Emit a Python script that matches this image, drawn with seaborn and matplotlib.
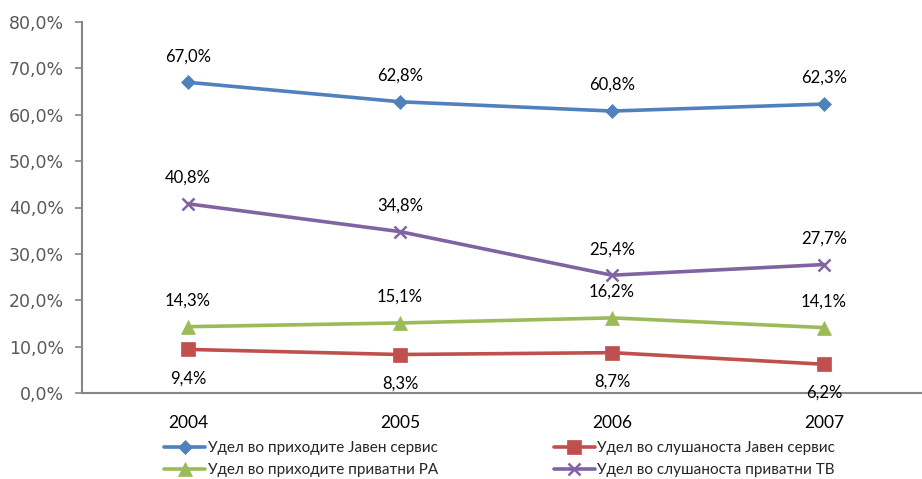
import seaborn as sns
import matplotlib.pyplot as plt
import pandas as pd
import numpy as np

# Values (percent)
years = ['2004', '2005', '2006', '2007']
javen_prihodi = [67.0, 62.8, 60.8, 62.3]
javen_slushanost = [9.4, 8.3, 8.7, 6.2]
privatni_ra = [14.3, 15.1, 16.2, 14.1]
privatni_tv = [40.8, 34.8, 25.4, 27.7]

series_names = ['Удел во приходите Јавен сервис', 'Удел во слушаноста Јавен сервис',
                'Удел во приходите приватни РА', 'Удел во слушаноста приватни ТВ']
series_values = [javen_prihodi, javen_slushanost, privatni_ra, privatni_tv]
colors = ['#4F81BD', '#C0504D', '#9BBB59', '#8064A2']
markers = ['D', 's', '^', 'x']
marker_sizes = [7, 10, 10, 9]
label_above = [True, False, True, True]

rows = []
for name, vals in zip(series_names, series_values):
    for i, v in enumerate(vals):
        rows.append({'series': name, 'x': i, 'value': v})
df = pd.DataFrame(rows)

sns.set_style('white')
plt.rcParams['font.family'] = ['Lato', 'DejaVu Sans']

fig = plt.figure(figsize=(9.22, 4.79), dpi=100)
ax = fig.add_axes([82 / 922, 1 - 393 / 479, (930 - 82) / 922, (393 - 22) / 479])

for name, col, mk, ms, above in zip(series_names, colors, markers, marker_sizes, label_above):
    sub = df[df['series'] == name]
    sns.lineplot(data=sub, x='x', y='value', ax=ax, color=col, marker=mk,
                 markersize=ms, linewidth=2.6, label=name,
                 markeredgecolor=col, markeredgewidth=1.8 if mk == 'x' else 0.5)
    for xv, yv in zip(sub['x'], sub['value']):
        txt = f'{yv:.1f}%'.replace('.', ',')
        ax.annotate(txt, (xv, yv), xytext=(0, 13 if above else -15),
                    textcoords='offset points', ha='center',
                    va='bottom' if above else 'top', fontsize=12, color='black')

ax.set_xlim(-0.5, 3.5)
ax.set_ylim(0, 80)
ax.set_yticks(np.arange(0, 81, 10))
ax.set_yticklabels([f'{v:.1f}%'.replace('.', ',') for v in np.arange(0, 81, 10)],
                   fontsize=12.5, color='#595959', family=['DejaVu Sans'])
ax.set_xticks(range(len(years)))
ax.set_xticklabels(years, fontsize=12.5, color='black')
ax.set_xticks(np.arange(-0.5, 3.6, 1), minor=True)
ax.tick_params(axis='x', which='major', length=0, pad=16)
ax.tick_params(axis='x', which='minor', length=5, width=1.2, color='#868686', direction='out')
ax.tick_params(axis='y', length=5, width=1.2, color='#868686', direction='out', left=True, pad=8)
ax.set_xlabel('')
ax.set_ylabel('')

for side in ['top', 'right']:
    ax.spines[side].set_visible(False)
for side in ['left', 'bottom']:
    ax.spines[side].set_color('#868686')
    ax.spines[side].set_linewidth(1.5)
ax.grid(False)

# row-wise legend order: blue, red / green, purple
handles, labels = ax.get_legend_handles_labels()
order = [0, 2, 1, 3]
ax.legend([handles[i] for i in order], [labels[i] for i in order],
          loc='upper left', bbox_to_anchor=(164 / 922, 1 - 441 / 479),
          bbox_transform=fig.transFigure, ncol=2, frameon=False,
          fontsize=11, handlelength=2.7, handletextpad=0.15, columnspacing=7.6,
          labelspacing=0.55, borderaxespad=0, borderpad=0)

fig.savefig('out.png', dpi=100, facecolor='white')
